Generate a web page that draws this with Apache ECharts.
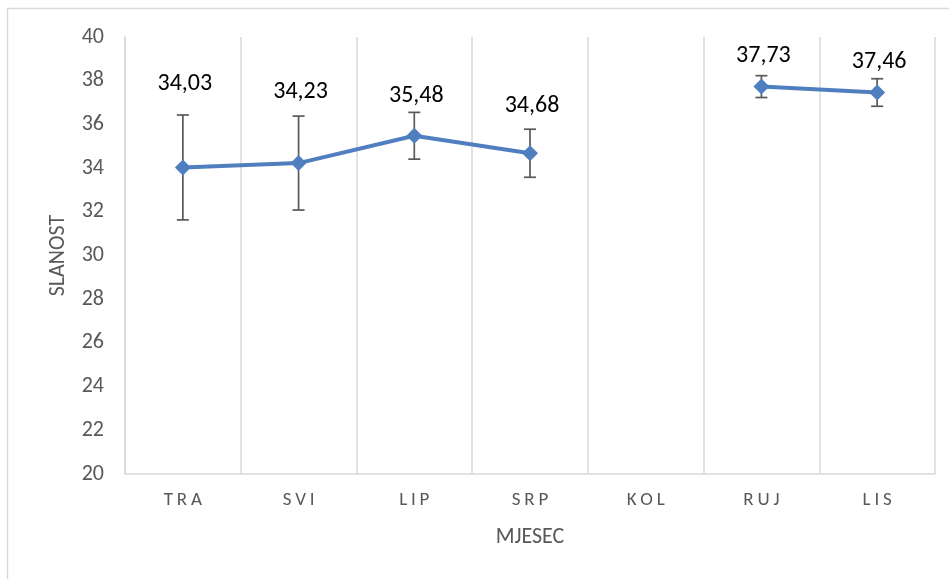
<!DOCTYPE html>
<html><head><meta charset="utf-8">
<script src="https://cdn.jsdelivr.net/npm/echarts@6/dist/echarts.min.js"></script>
<style>html,body{margin:0;padding:0;background:#fff}#c{width:949px;height:579px}</style>
</head><body><div id="c"></div>
<script>
const categories = ['TRA','SVI','LIP','SRP','KOL','RUJ','LIS'];
const means = [34.03, 34.23, 35.48, 34.68, null, 37.73, 37.46];
const errors = [2.40, 2.15, 1.07, 1.10, null, 0.50, 0.63];
const yTicks = {min: 20, max: 40, interval: 2};

// label placement style (pixels above the error bar cap)
const labelLift = [31, 24, 16, 23, 0, 20, 17];

const FONT = 'Carlito, "Open Sans", "Noto Sans", sans-serif';
const chart = echarts.init(document.getElementById('c'), null, {renderer: 'canvas'});
const errData = means.map((m, i) => m == null ? [i, null, null, null] : [i, m, m - errors[i], m + errors[i]]);

chart.setOption({
  animation: false,
  backgroundColor: '#fff',
  graphic: [{type: 'rect', shape: {x: 7.5, y: 8.5, width: 1000, height: 700},
    style: {fill: 'none', stroke: '#d9d9d9', lineWidth: 1.5}, silent: true, z: -10}],
  grid: {left: 125, right: 14, top: 37, bottom: 105},
  xAxis: {
    type: 'category', data: categories, boundaryGap: true,
    name: 'MJESEC', nameLocation: 'middle', nameGap: 52,
    nameTextStyle: {color: '#595959', fontSize: 22, fontFamily: FONT},
    axisLine: {show: true, lineStyle: {color: '#d9d9d9', width: 1.5}},
    axisTick: {show: false},
    axisLabel: {color: '#595959', fontSize: 19, fontFamily: FONT, margin: 17,
      formatter: v => v.split('').join('\u2009')},
    splitLine: {show: true, lineStyle: {color: '#d9d9d9', width: 1.5}}
  },
  yAxis: {
    type: 'value', min: yTicks.min, max: yTicks.max, interval: yTicks.interval,
    name: 'SLANOST', nameLocation: 'middle', nameGap: 56, nameRotate: 90,
    nameTextStyle: {color: '#595959', fontSize: 22, fontFamily: FONT},
    axisLine: {show: true, lineStyle: {color: '#d9d9d9', width: 1.5}},
    axisTick: {show: false},
    axisLabel: {color: '#595959', fontSize: 22, fontFamily: FONT, margin: 21},
    splitLine: {show: false}
  },
  series: [
    {
      type: 'custom', data: errData, z: 3,
      renderItem: function (params, api) {
        if (api.value(1) == null || isNaN(api.value(1))) return null;
        const x = api.value(0);
        const lo = api.coord([x, api.value(2)]);
        const hi = api.coord([x, api.value(3)]);
        const w = 6;
        const st = {stroke: '#595959', lineWidth: 1.7};
        return {type: 'group', children: [
          {type: 'line', shape: {x1: lo[0], y1: lo[1], x2: hi[0], y2: hi[1]}, style: st},
          {type: 'line', shape: {x1: lo[0]-w, y1: lo[1], x2: lo[0]+w, y2: lo[1]}, style: st},
          {type: 'line', shape: {x1: hi[0]-w, y1: hi[1], x2: hi[0]+w, y2: hi[1]}, style: st},
          {type: 'text', x: hi[0] + 2, y: hi[1] - labelLift[params.dataIndex],
            style: {text: api.value(1).toFixed(2).replace('.', ','), fill: '#000',
              font: '24px ' + FONT, textAlign: 'center', textVerticalAlign: 'middle'}}
        ]};
      }
    },
    {
      type: 'line', data: means, z: 4, connectNulls: false,
      symbol: 'diamond', symbolSize: 16,
      lineStyle: {color: '#4F7FBF', width: 4},
      itemStyle: {color: '#4F7FBF'}
    }
  ]
});
</script></body></html>
